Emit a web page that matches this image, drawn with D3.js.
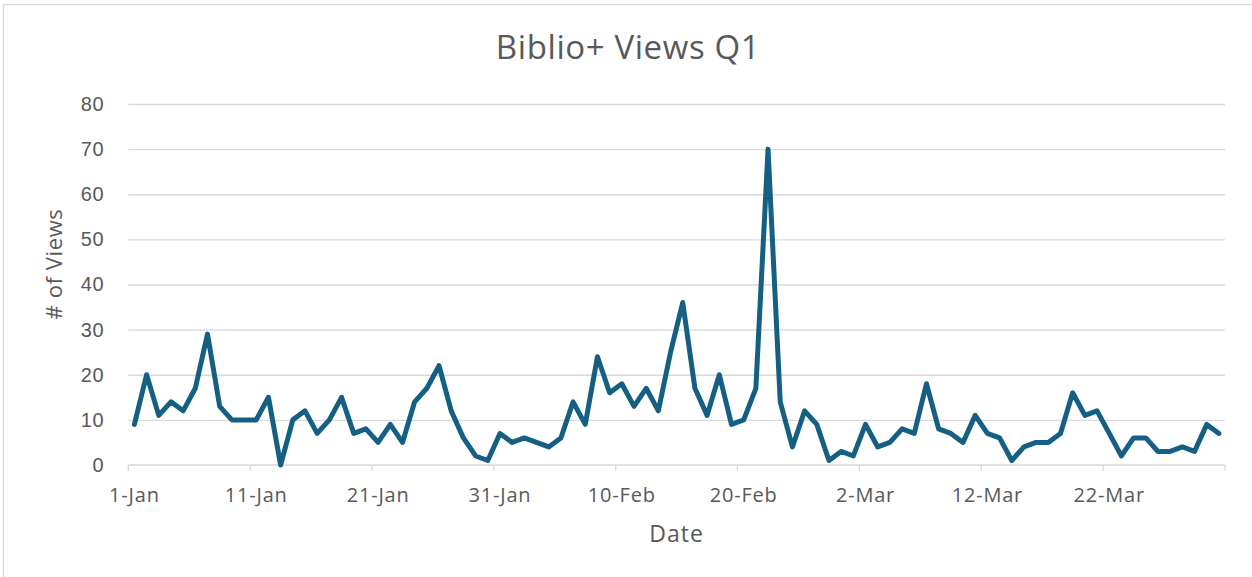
<!DOCTYPE html>
<html>
<head>
<meta charset="utf-8">
<script src="https://cdn.jsdelivr.net/npm/d3@7"></script>
<style>
  html, body { margin: 0; padding: 0; background: #fff; }
  svg { display: block; font-family: "Open Sans", "Noto Sans", sans-serif; }
</style>
</head>
<body>
<svg id="chart" width="1252" height="577"></svg>
<script>
// Daily page views, 1 Jan – 31 Mar
const startDate = "2025-01-01";
const endDate = "2025-04-01";
const views = [
  9, 20, 11, 14, 12, 17, 29, 13, 10, 10,
  10, 15, 0, 10, 12, 7, 10, 15, 7, 8,
  5, 9, 5, 14, 17, 22, 12, 6, 2, 1,
  7, 5, 6, 5, 4, 6, 14, 9, 24, 16,
  18, 13, 17, 12, 25, 36, 17, 11, 20, 9,
  10, 17, 70, 14, 4, 12, 9, 1, 3, 2,
  9, 4, 5, 8, 7, 18, 8, 7, 5, 11,
  7, 6, 1, 4, 5, 5, 7, 16, 11, 12,
  7, 2, 6, 6, 3, 3, 4, 3, 9, 7
];
const yTicks = [0, 10, 20, 30, 40, 50, 60, 70, 80];
const tickStep = 10; // days between date labels
const titleText = "Biblio+ Views Q1";
const xTitle = "Date";
const yTitle = "# of Views";

const DAY = 24 * 3600 * 1000;
const t0 = new Date(startDate + "T00:00:00Z");
const t1 = new Date(endDate + "T00:00:00Z");
const data = views.map((v, i) => ({ date: new Date(t0.getTime() + i * DAY), value: v }));

const svg = d3.select("#chart");
const textColor = "#595959";
const gridColor = "#d9d9d9";

// chart frame
svg.append("rect")
  .attr("x", 3.5).attr("y", 4.5)
  .attr("width", 1300).attr("height", 650)
  .attr("fill", "#fff").attr("stroke", gridColor).attr("stroke-width", 1.3);

const plotLeft = 128.3, plotRight = 1225, plotTop = 104, plotBottom = 465;

const x = d3.scaleUtc().domain([t0, t1]).range([plotLeft, plotRight]);
const y = d3.scaleLinear().domain([0, 80]).range([plotBottom, plotTop]);
const mid = d => new Date(d.getTime() + DAY / 2);

// horizontal gridlines + y labels
const yAxis = svg.append("g")
  .attr("transform", `translate(${plotLeft},0)`)
  .call(d3.axisLeft(y).tickValues(yTicks).tickSize(-(plotRight - plotLeft)).tickPadding(24).tickFormat(d3.format("d")));
yAxis.select(".domain").remove();
yAxis.selectAll(".tick line").attr("stroke", gridColor).attr("stroke-width", 1.3);
yAxis.selectAll(".tick text")
  .attr("fill", textColor).attr("font-size", 20).attr("letter-spacing", 0.6);
yAxis.selectAll(".tick").filter(d => d === 0).select("line").remove();

// date axis
const tickDates = d3.range(0, 90, tickStep).map(i => new Date(t0.getTime() + i * DAY));
const xAxisG = svg.append("g").attr("transform", `translate(0,${plotBottom})`);
xAxisG.append("line")
  .attr("x1", plotLeft).attr("x2", plotRight)
  .attr("stroke", gridColor).attr("stroke-width", 1.3);
xAxisG.selectAll("line.tk")
  .data(tickDates.concat([t1]))
  .join("line").attr("class", "tk")
  .attr("x1", d => x(d)).attr("x2", d => x(d))
  .attr("y1", 0).attr("y2", 6)
  .attr("stroke", gridColor).attr("stroke-width", 1.3);
const fmt = d3.utcFormat("%-d-%b");
xAxisG.selectAll("text.lbl")
  .data(tickDates)
  .join("text").attr("class", "lbl")
  .attr("x", d => x(mid(d)))
  .attr("y", 37)
  .attr("text-anchor", "middle")
  .attr("fill", textColor).attr("font-size", 20).attr("letter-spacing", 0.8)
  .text(d => fmt(d));

// series line
const line = d3.line()
  .x(d => x(mid(d.date)))
  .y(d => y(d.value));
svg.append("path")
  .datum(data)
  .attr("d", line)
  .attr("fill", "none")
  .attr("stroke", "#156082")
  .attr("stroke-width", 5)
  .attr("stroke-linejoin", "round")
  .attr("stroke-linecap", "round");

// titles
svg.append("text")
  .attr("x", 628).attr("y", 59)
  .attr("text-anchor", "middle")
  .attr("fill", textColor).attr("font-size", 33).attr("letter-spacing", 0.6)
  .text(titleText);
svg.append("text")
  .attr("x", (plotLeft + plotRight) / 2).attr("y", 542)
  .attr("text-anchor", "middle")
  .attr("fill", textColor).attr("font-size", 23).attr("letter-spacing", 1)
  .text(xTitle);
svg.append("text")
  .attr("transform", "translate(62,264) rotate(-90)")
  .attr("text-anchor", "middle")
  .attr("fill", textColor).attr("font-size", 22).attr("letter-spacing", 0.6)
  .text(yTitle);
</script>
</body>
</html>
